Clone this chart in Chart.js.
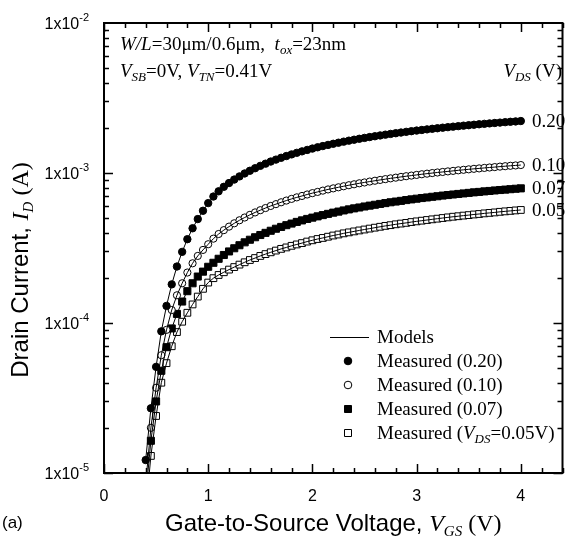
<!DOCTYPE html>
<html>
<head>
<meta charset="utf-8">
<script src="https://cdn.jsdelivr.net/npm/chart.js@4"></script>
<style>
  html, body { margin: 0; padding: 0; background: #fff; }
  canvas { display: block; }
</style>
</head>
<body>
<canvas id="idChart" width="571" height="536"></canvas>
<script>
// gate voltage sweep (V)
const vgs = [
  0.40, 0.45, 0.50, 0.55, 0.60, 0.65, 0.70, 0.75, 0.80, 0.85, 0.90, 0.95, 1.00, 1.05, 1.10, 1.15, 1.20, 1.25, 1.30,
  1.35, 1.40, 1.45, 1.50, 1.55, 1.60, 1.65, 1.70, 1.75, 1.80, 1.85, 1.90, 1.95, 2.00, 2.05, 2.10, 2.15, 2.20, 2.25,
  2.30, 2.35, 2.40, 2.45, 2.50, 2.55, 2.60, 2.65, 2.70, 2.75, 2.80, 2.85, 2.90, 2.95, 3.00, 3.05, 3.10, 3.15, 3.20,
  3.25, 3.30, 3.35, 3.40, 3.45, 3.50, 3.55, 3.60, 3.65, 3.70, 3.75, 3.80, 3.85, 3.90, 3.95, 4.00,
]

// drain current in mA, one list per VDS
const id020 = [
  0.0122, 0.027, 0.051, 0.088, 0.130, 0.181, 0.238, 0.298, 0.362, 0.428, 0.493, 0.560, 0.630, 0.697, 0.755, 0.809,
  0.857, 0.904, 0.949, 0.993, 1.035, 1.076, 1.116, 1.154, 1.192, 1.228, 1.263, 1.297, 1.330, 1.363, 1.394, 1.425,
  1.455, 1.484, 1.512, 1.539, 1.566, 1.592, 1.618, 1.643, 1.667, 1.691, 1.714, 1.736, 1.758, 1.780, 1.801, 1.822,
  1.842, 1.861, 1.881, 1.900, 1.918, 1.936, 1.954, 1.971, 1.988, 2.005, 2.021, 2.037, 2.053, 2.068, 2.083, 2.098,
  2.113, 2.127, 2.141, 2.155, 2.168, 2.182, 2.195, 2.207, 2.220,
]
const id010 = [
  0.0085, 0.020, 0.037, 0.061, 0.090, 0.122, 0.153, 0.184, 0.217, 0.250, 0.280, 0.307, 0.335, 0.365, 0.392, 0.416,
  0.439, 0.462, 0.484, 0.505, 0.526, 0.546, 0.565, 0.584, 0.603, 0.620, 0.638, 0.655, 0.672, 0.688, 0.703, 0.719,
  0.734, 0.748, 0.763, 0.777, 0.790, 0.803, 0.816, 0.829, 0.841, 0.854, 0.865, 0.877, 0.888, 0.899, 0.910, 0.921,
  0.931, 0.942, 0.952, 0.961, 0.971, 0.981, 0.990, 0.999, 1.008, 1.016, 1.025, 1.033, 1.042, 1.050, 1.058, 1.066,
  1.073, 1.081, 1.088, 1.095, 1.103, 1.110, 1.117, 1.123, 1.130,
]
const id007 = [
  0.0070, 0.0164, 0.030, 0.048, 0.069, 0.092, 0.115, 0.139, 0.163, 0.184, 0.204, 0.220, 0.237, 0.252, 0.268, 0.284,
  0.300, 0.315, 0.330, 0.345, 0.359, 0.373, 0.386, 0.399, 0.412, 0.425, 0.437, 0.449, 0.460, 0.472, 0.483, 0.494,
  0.504, 0.514, 0.524, 0.534, 0.544, 0.553, 0.563, 0.572, 0.581, 0.589, 0.598, 0.606, 0.614, 0.622, 0.630, 0.638,
  0.645, 0.652, 0.660, 0.667, 0.674, 0.681, 0.687, 0.694, 0.700, 0.707, 0.713, 0.719, 0.725, 0.731, 0.737, 0.743,
  0.748, 0.754, 0.759, 0.765, 0.770, 0.775, 0.780, 0.785, 0.790,
]
const id005 = [
  0.0055, 0.013, 0.024, 0.040, 0.054, 0.070, 0.087, 0.102, 0.117, 0.133, 0.150, 0.169, 0.186, 0.199, 0.209, 0.218,
  0.227, 0.236, 0.245, 0.254, 0.263, 0.271, 0.280, 0.288, 0.296, 0.304, 0.312, 0.319, 0.327, 0.334, 0.341, 0.349,
  0.356, 0.363, 0.369, 0.376, 0.383, 0.389, 0.396, 0.402, 0.408, 0.414, 0.420, 0.426, 0.432, 0.438, 0.444, 0.449,
  0.455, 0.460, 0.465, 0.471, 0.476, 0.481, 0.486, 0.491, 0.496, 0.501, 0.506, 0.511, 0.515, 0.520, 0.524, 0.529,
  0.533, 0.538, 0.542, 0.546, 0.551, 0.555, 0.559, 0.563, 0.567,
]

const vdsLabels = ['0.20', '0.10', '0.07', '0.05']
const xTicks = [0, 1, 2, 3, 4]
const yTicks = [1e-5, 1e-4, 1e-3, 1e-2]
const yTickExp = ['-5', '-4', '-3', '-2']

const SANS = '"Liberation Sans", Arial, sans-serif'
const SERIF = '"Liberation Serif", "Times New Roman", serif'

const toPoints = (arr) => vgs.map((v, i) => ({ x: v, y: arr[i] * 1e-3 }))

const series = [
  { data: id020, style: 'circle', fill: '#000', r: 3.7 },
  { data: id010, style: 'circle', fill: '#fff', r: 3.6 },
  { data: id007, style: 'rect', fill: '#000', r: 5.0 },
  { data: id005, style: 'rect', fill: '#fff', r: 4.8 },
]

const models = series.map((s) => ({
  data: toPoints(s.data),
  borderColor: '#000',
  borderWidth: 1,
  pointRadius: 0,
  tension: 0,
  fill: false,
}))
const measured = series.map((s) => ({
  data: toPoints(s.data),
  showLine: false,
  pointStyle: s.style,
  pointRadius: s.r,
  pointBackgroundColor: s.fill,
  pointBorderColor: '#000',
  pointBorderWidth: 1,
}))

function rich(ctx, parts, x, y, align) {
  let w = 0
  parts.forEach((p) => {
    ctx.font = p.f
    w += ctx.measureText(p.t).width
  })
  let cx = align === 'center' ? x - w / 2 : align === 'right' ? x - w : x
  parts.forEach((p) => {
    ctx.font = p.f
    ctx.fillText(p.t, cx, y + (p.dy || 0))
    cx += ctx.measureText(p.t).width
  })
}

const frame = {
  id: 'frame',
  afterDraw(chart) {
    const { ctx, chartArea: a, scales } = chart
    const sx = scales.x
    const sy = scales.y
    ctx.save()
    ctx.strokeStyle = '#000'
    ctx.fillStyle = '#000'
    ctx.textBaseline = 'alphabetic'
    ctx.textAlign = 'left'

    // frame
    ctx.lineWidth = 2
    ctx.strokeRect(a.left, a.top, a.right - a.left, a.bottom - a.top)

    // inward ticks on all four sides
    ctx.lineWidth = 1.5
    ctx.beginPath()
    for (let k = 0; k <= 22; k++) {
      const v = k * 0.2
      const len = k % 5 === 0 ? 9 : 5
      const px = Math.round(sx.getPixelForValue(v)) + 0.5
      ctx.moveTo(px, a.bottom)
      ctx.lineTo(px, a.bottom - len)
      ctx.moveTo(px, a.top)
      ctx.lineTo(px, a.top + len)
    }
    for (let d = -5; d <= -3; d++) {
      for (let m = 1; m <= 9; m++) {
        const py = Math.round(sy.getPixelForValue(m * Math.pow(10, d))) + 0.5
        const len = m === 1 ? 9 : 5
        ctx.moveTo(a.left, py)
        ctx.lineTo(a.left + len, py)
        ctx.moveTo(a.right, py)
        ctx.lineTo(a.right - len, py)
      }
    }
    ctx.stroke()

    // tick labels
    ctx.font = '16px ' + SANS
    ctx.textAlign = 'center'
    xTicks.forEach((v) => ctx.fillText(String(v), sx.getPixelForValue(v), a.bottom + 28))
    ctx.textAlign = 'left'
    yTicks.forEach((v, i) => {
      rich(ctx, [
        { t: '1x10', f: '16px ' + SANS },
        { t: yTickExp[i], f: '11px ' + SANS, dy: -8 },
      ], 89, sy.getPixelForValue(v) + 6, 'right')
    })

    // axis titles
    rich(ctx, [
      { t: 'Gate-to-Source Voltage, ', f: '24px ' + SANS },
      { t: 'V', f: 'italic 24px ' + SERIF },
      { t: 'GS', f: 'italic 15px ' + SERIF, dy: 5 },
      { t: ' (V)', f: '24px ' + SERIF },
    ], (a.left + a.right) / 2, 531, 'center')

    ctx.save()
    ctx.translate(28, (a.top + a.bottom) / 2 + 22)
    ctx.rotate(-Math.PI / 2)
    rich(ctx, [
      { t: 'Drain Current, ', f: '24px ' + SANS },
      { t: 'I', f: 'italic 24px ' + SERIF },
      { t: 'D', f: 'italic 15px ' + SERIF, dy: 5 },
      { t: ' (A)', f: '24px ' + SERIF },
    ], 0, 0, 'center')
    ctx.restore()

    ctx.font = '17px ' + SANS
    ctx.fillText('(a)', 2, 528)

    // device annotation
    const s19 = '19px ' + SERIF
    const i19 = 'italic 19px ' + SERIF
    const i13 = 'italic 13px ' + SERIF
    rich(ctx, [
      { t: 'W/L', f: i19 },
      { t: '=30\u03bcm/0.6\u03bcm,  ', f: s19 },
      { t: 't', f: i19 },
      { t: 'ox', f: i13, dy: 4 },
      { t: '=23nm', f: s19 },
    ], 120, 50, 'left')
    rich(ctx, [
      { t: 'V', f: i19 },
      { t: 'SB', f: i13, dy: 4 },
      { t: '=0V, ', f: s19 },
      { t: 'V', f: i19 },
      { t: 'TN', f: i13, dy: 4 },
      { t: '=0.41V', f: s19 },
    ], 120, 77, 'left')
    rich(ctx, [
      { t: 'V', f: i19 },
      { t: 'DS', f: i13, dy: 4 },
      { t: ' (V)', f: s19 },
    ], 562, 77, 'right')

    // VDS labels at the curve ends
    const ends = [id020, id010, id007, id005]
    ctx.font = s19
    vdsLabels.forEach((t, i) => {
      const last = ends[i][ends[i].length - 1] * 1e-3
      ctx.fillText(t, 532, sy.getPixelForValue(last) + 6)
    })

    // legend
    ctx.lineWidth = 1
    ctx.beginPath()
    ctx.moveTo(330, 337.5)
    ctx.lineTo(369, 337.5)
    ctx.stroke()
    ctx.font = s19
    ctx.fillText('Models', 377, 343)
    const rows = [367, 391, 415, 439]
    series.forEach((s, i) => {
      const cy = rows[i] - 6
      ctx.beginPath()
      if (s.style === 'circle') ctx.arc(348, cy, 3.8, 0, Math.PI * 2)
      else ctx.rect(344.5, cy - 3.5, 7, 7)
      ctx.fillStyle = s.fill
      ctx.fill()
      ctx.fillStyle = '#000'
      ctx.stroke()
    })
    const leg = ['Measured (0.20)', 'Measured (0.10)', 'Measured (0.07)']
    leg.forEach((t, i) => {
      ctx.font = s19
      ctx.fillText(t, 377, rows[i])
    })
    rich(ctx, [
      { t: 'Measured (', f: s19 },
      { t: 'V', f: i19 },
      { t: 'DS', f: i13, dy: 4 },
      { t: '=0.05V)', f: s19 },
    ], 377, rows[3], 'left')

    ctx.restore()
  },
}

const ctx = document.getElementById('idChart').getContext('2d')
new Chart(ctx, {
  type: 'line',
  data: { datasets: [...models, ...measured] },
  options: {
    responsive: false,
    animation: false,
    layout: { padding: { left: 104, right: 8.5, top: 23, bottom: 63 } },
    scales: {
      x: { type: 'linear', min: 0, max: 4.4, display: false },
      y: { type: 'logarithmic', min: 1e-5, max: 1e-2, display: false },
    },
    plugins: { legend: { display: false }, tooltip: { enabled: false } },
  },
  plugins: [frame],
})
</script>
</body>
</html>
